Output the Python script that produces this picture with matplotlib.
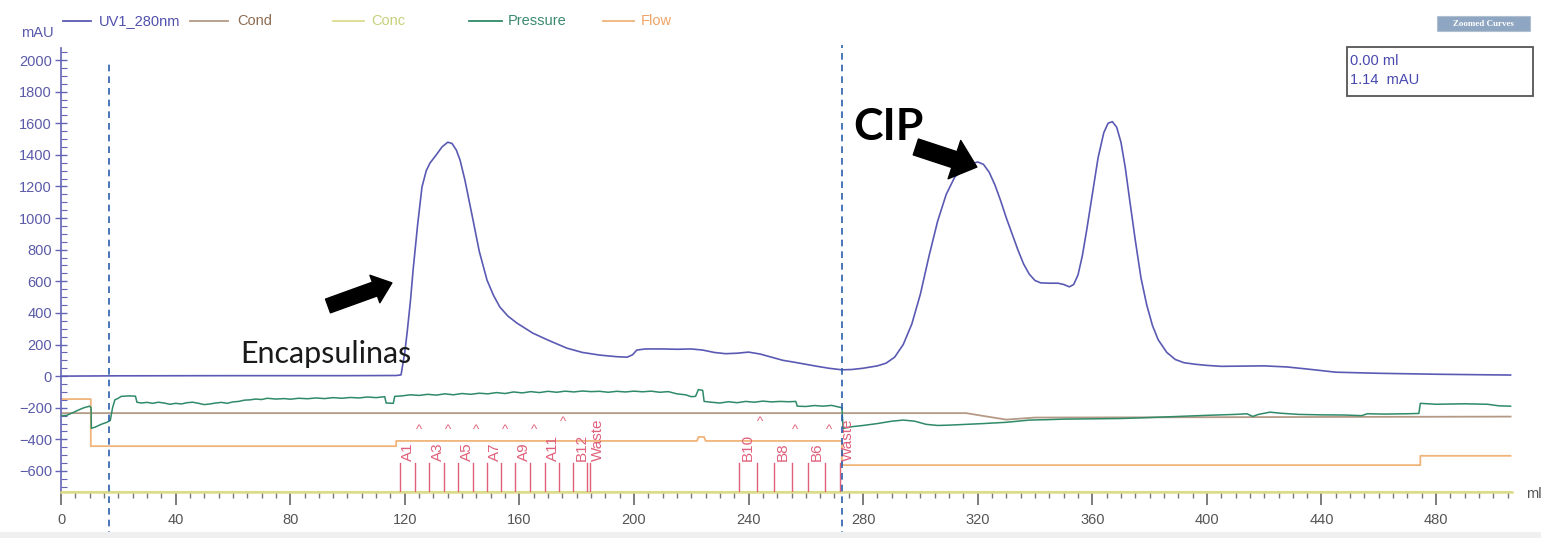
import matplotlib
matplotlib.use("Agg")
import matplotlib.pyplot as plt
from matplotlib.lines import Line2D
from matplotlib.patches import Rectangle
import numpy as np

# ---------------- data ----------------
uv_ml = [0, 20, 60, 100, 117, 118.7, 120, 120.8, 122, 122.9, 124.5, 126, 127.5, 128.8,
         131, 133, 135, 136.5, 138, 139.3, 141, 143.8, 146, 148.7, 151, 153.2, 156,
         159.2, 164.7, 170, 176.6, 182, 188.1, 194, 197.6, 199.5, 201, 204, 210, 215,
         220, 224, 228, 232, 236, 240, 244, 248, 252, 256, 260, 264, 268, 272.6,
         276, 280, 285, 288, 291, 294, 297, 300, 303, 306, 309, 312, 315, 318, 320,
         322, 324, 326, 328, 330, 332, 334, 336, 338, 340, 342, 345, 348, 350, 352,
         353.5, 355, 356.5, 358, 360, 362, 364, 365.5, 367, 368.5, 370, 371.5, 373,
         375, 377, 379, 381, 383, 386, 389, 392, 396, 400, 405, 410, 420, 428, 435,
         445, 460, 480, 500, 506]
uv_mau = [0, 2, 3, 3, 4, 8, 150, 272, 480, 670, 960, 1196, 1300, 1348,
          1400, 1450, 1480, 1472, 1430, 1367, 1240, 990, 790, 608, 510, 437, 380,
          335, 272, 228, 177, 150, 133, 123, 120, 135, 165, 172, 172, 170,
          172, 165, 150, 142, 145, 152, 140, 120, 100, 88, 75, 62, 50, 40,
          42, 50, 65, 82, 120, 200, 330, 520, 760, 980, 1150, 1260, 1310, 1345, 1355,
          1340, 1290, 1210, 1110, 1000, 900, 800, 710, 645, 605, 590, 588, 588, 580, 565,
          580, 640, 760, 920, 1150, 1380, 1540, 1600, 1610, 1575, 1480, 1320, 1120,
          860, 620, 450, 320, 230, 150, 105, 85, 75, 68, 62, 63, 65, 58, 45,
          25, 18, 12, 8, 7]

pressure_ml = [0, 2, 4, 6, 8, 10, 10.5, 10.6, 12, 14, 16, 17.2, 18.0, 18.8, 20, 21, 24, 26,
               26.5, 28, 30, 32, 34, 36, 38, 40, 42, 44, 46, 48, 50, 52, 54, 56, 58, 60,
               62, 64, 66, 68, 70, 72, 75, 78, 80, 83, 86, 89, 92, 95, 98, 101, 104, 107,
               110, 113, 113.5, 116, 116.5, 119, 122, 125, 128, 131, 134, 137, 140, 143,
               146, 149, 152, 155, 158, 161, 164, 167, 170, 173, 176, 179, 182, 185, 188,
               191, 194, 197, 200, 203, 206, 209, 212, 215, 218, 220, 221.5, 222.5, 224,
               224.5, 227, 230, 233, 236, 239, 242, 245, 248, 251, 254, 256.5, 257, 260,
               263, 266, 269, 271, 272.6, 273, 276, 280, 285, 290, 294, 298, 302, 306,
               310, 316, 322, 330, 338, 345, 350, 360, 370, 380, 390, 400, 410, 414, 416,
               418, 422, 426, 432, 440, 448, 454, 456, 462, 470, 474, 474.5, 480, 490,
               498, 502, 506]
pressure_val = [-250, -248, -232, -215, -200, -190, -200, -330, -322, -305, -292, -280, -200,
                -150, -140, -128, -125, -127, -165, -170, -166, -172, -165, -170, -178, -172,
                -176, -168, -165, -172, -180, -176, -170, -166, -172, -163, -160, -152, -150,
                -145, -148, -140, -145, -142, -146, -140, -143, -138, -142, -136, -140, -135,
                -138, -132, -136, -130, -170, -172, -128, -125, -118, -122, -115, -120, -112,
                -118, -110, -115, -108, -112, -104, -110, -100, -106, -98, -104, -96, -102,
                -95, -100, -94, -98, -96, -102, -96, -100, -95, -99, -95, -102, -98, -112,
                -118, -130, -128, -85, -90, -160, -165, -170, -162, -168, -160, -165, -158,
                -163, -160, -162, -160, -190, -192, -186, -190, -185, -193, -200, -330, -320,
                -312, -300, -285, -278, -285, -305, -312, -310, -305, -300, -292, -278, -275,
                -272, -270, -268, -262, -255, -248, -242, -238, -255, -242, -228, -235, -242,
                -245, -246, -250, -238, -240, -238, -236, -172, -178, -175, -178, -188, -190]

cond_ml = [0, 316, 323, 330, 340, 506]
cond_val = [-234, -234, -255, -275, -262, -256]

flow_ml = [0, 10.4, 10.4, 117, 117, 222, 222.5, 224.5, 225, 272.6, 272.6, 474.5, 474.5, 506]
flow_val = [-145, -145, -443, -443, -410, -410, -385, -385, -410, -410, -563, -563, -504, -504]

conc_ml = [0, 506]
conc_val = [-731, -731]

frac_ml = [118.3, 123.6, 128.6, 133.7, 138.7, 143.7, 148.6, 153.6, 158.6, 163.7, 168.8,
           173.9, 178.8, 183.5, 184.6, 236.8, 242.8, 248.9, 255.0, 260.8, 266.7, 271.9]
frac_labels = ["A1", "^", "A3", "^", "A5", "^", "A7", "^", "A9", "^", "A11",
               "^", "B12", "", "Waste", "B10", "^", "B8", "^", "B6", "^", "Waste"]
raised_carets = {11, 16}

marker_ml = [16.8, 272.6]

x_ticks = [0, 40, 80, 120, 160, 200, 240, 280, 320, 360, 400, 440, 480]
y_ticks = [-600, -400, -200, 0, 200, 400, 600, 800, 1000, 1200, 1400, 1600, 1800, 2000]

# ---------------- style ----------------
C_UV = "#5a5ab4"
C_COND = "#b49a86"
C_CONC = "#dcdc8c"
C_PRES = "#2f8a68"
C_FLOW = "#f0b47a"
C_FRAC = "#e0607a"
C_AX = "#6464b4"
C_DASH = "#2a5fae"

plt.rcParams['font.family'] = ['Liberation Sans', 'DejaVu Sans']

W, H = 1541, 538
fig = plt.figure(figsize=(W / 100, H / 100), dpi=100)
fig.patch.set_facecolor("white")
fig.patches.append(Rectangle((0, 0), 1, 6 / H, transform=fig.transFigure,
                             facecolor="#f0f0f0", edgecolor="none", zorder=0))

ax = fig.add_axes([61 / W, (H - 492) / H, (1512 - 61) / W, (492 - 48) / H])
ax.set_xlim(0, 506.5)
ax.set_ylim(-733, 2076)

for s in ["top", "right"]:
    ax.spines[s].set_visible(False)
ax.spines["left"].set_color(C_AX)
ax.spines["left"].set_linewidth(1.2)
ax.spines["bottom"].set_color(C_CONC)
ax.spines["bottom"].set_linewidth(1.8)

ax.set_yticks(y_ticks)
ax.set_yticks(np.arange(-700, 2051, 50), minor=True)
ax.set_xticks(x_ticks)
ax.set_xticks(np.arange(0, 506, 5), minor=True)
ax.tick_params(axis="y", which="major", direction="inout", length=9, width=1,
               color=C_AX, labelcolor="#5a5aaa", labelsize=10.5, pad=2)
ax.tick_params(axis="y", which="minor", direction="in", length=4, width=0.8, color=C_AX)
ax.tick_params(axis="x", which="major", direction="out", length=9, width=1.2,
               color="#666666", labelcolor="#555555", labelsize=10.5, pad=6)
ax.tick_params(axis="x", which="minor", direction="out", length=4, width=1,
               color="#777777")

# traces
ax.plot(conc_ml, conc_val, color=C_CONC, lw=1.5, zorder=2)
ax.plot(cond_ml, cond_val, color=C_COND, lw=1.3, zorder=2)
ax.plot(flow_ml, flow_val, color=C_FLOW, lw=1.3, zorder=2)
ax.plot(pressure_ml, pressure_val, color=C_PRES, lw=1.1, zorder=3)
ax.plot(uv_ml, uv_mau, color=C_UV, lw=1.2, zorder=4)

# fractions
for i, (xm, lab) in enumerate(zip(frac_ml, frac_labels)):
    ax.plot([xm, xm], [-733, -548], color=C_FRAC, lw=1.0, zorder=3)
    if lab == "^":
        yy = -291 if i in raised_carets else -342
        ax.text(xm + 1.3, yy, "^", color=C_FRAC, fontsize=9.5, ha="center", va="center")
    elif lab:
        ax.text(xm + 0.5, -540, lab, color=C_FRAC, fontsize=11, rotation=90,
                ha="left", va="bottom")

# dashed markers
for xm, top in zip(marker_ml, [0.968, 1.007]):
    ax.axvline(xm, ymin=-0.104, ymax=top, color=C_DASH, lw=1.2,
               linestyle=(0, (4, 3)), clip_on=False, zorder=5)

# axis labels
fig.text(37 / W, 1 - 33 / H, "mAU", color="#5a5aaa", fontsize=10.5, ha="center", va="center")
fig.text(1526 / W, 1 - 494 / H, "ml", color="#555555", fontsize=10.5, ha="left", va="center")

# legend
legend_items = [("UV1_280nm", C_UV, "#5050ae", 63, 91, 99),
                ("Cond", C_COND, "#8c6c54", 190, 228, 237),
                ("Conc", C_CONC, "#c6d07a", 333, 364, 371),
                ("Pressure", C_PRES, "#3a8a6e", 469, 502, 508),
                ("Flow", C_FLOW, "#f0a466", 603, 634, 641)]
ly = 1 - 21 / H
for name, lc, tc, x0, x1, xt in legend_items:
    fig.add_artist(Line2D([x0 / W, x1 / W], [ly, ly], color=lc, lw=1.3,
                          transform=fig.transFigure))
    fig.text(xt / W, ly, name, color=tc, fontsize=10.5, ha="left", va="center")

# zoomed curves button
fig.patches.append(Rectangle((1437 / W, 1 - 31 / H), 93 / W, 15 / H,
                             transform=fig.transFigure, facecolor="#8fa6c2",
                             edgecolor="#b0c0d0", lw=0.8, zorder=1))
fig.text(1483.5 / W, 1 - 23.5 / H, "Zoomed Curves", color="white", fontsize=6.5,
         ha="center", va="center", fontweight="bold", family="Liberation Serif")

# info box
fig.patches.append(Rectangle((1347 / W, 1 - 96 / H), 186 / W, 49 / H,
                             transform=fig.transFigure, facecolor="white",
                             edgecolor="#555555", lw=1.3, zorder=1))
fig.text(1350 / W, 1 - 61 / H, "0.00 ml", color="#4848b0", fontsize=10.5,
         ha="left", va="center")
fig.text(1350 / W, 1 - 80 / H, "1.14  mAU", color="#4848b0", fontsize=10.5,
         ha="left", va="center")

# annotations
ax.text(62.5, 84, "Encapsulinas", fontsize=22, family=["Lato", "DejaVu Sans"],
        color="#1a1a1a", ha="left", va="baseline", zorder=6)
ax.text(276.4, 1494, "CIP", fontsize=32, family=["Lato", "DejaVu Sans"],
        fontweight="bold", color="black", ha="left", va="baseline", zorder=6)
ax.annotate("", xy=(115.5, 590), xytext=(93.2, 444),
            arrowprops=dict(arrowstyle="simple,head_length=1.3,head_width=2.1,tail_width=1.05",
                            color="black", mutation_scale=10, shrinkA=0, shrinkB=0), zorder=6)
ax.annotate("", xy=(319.7, 1323), xytext=(298.4, 1450),
            arrowprops=dict(arrowstyle="simple,head_length=1.7,head_width=2.9,tail_width=1.2",
                            color="black", mutation_scale=10, shrinkA=0, shrinkB=0), zorder=6)

fig.savefig("out.png", dpi=100)
